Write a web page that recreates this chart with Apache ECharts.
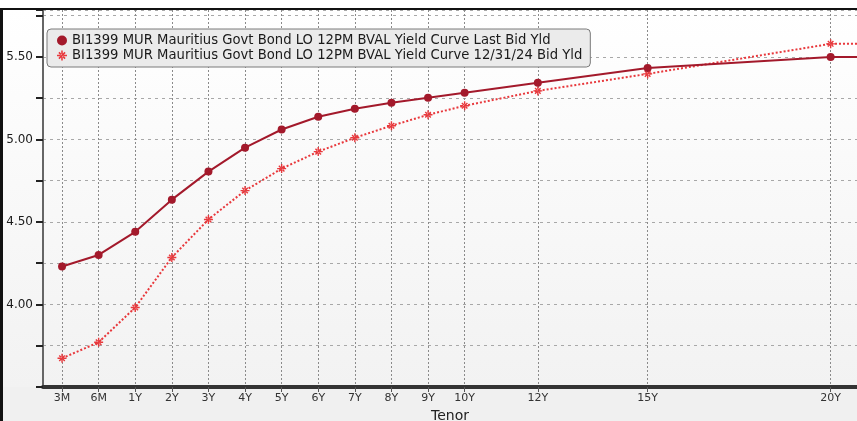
<!DOCTYPE html>
<html>
<head>
<meta charset="utf-8">
<script src="https://cdn.jsdelivr.net/npm/echarts@6/dist/echarts.min.js"></script>
<style>
  html, body { margin: 0; padding: 0; background: #f0f0f0; }
  #chart { width: 857px; height: 421px; }
</style>
</head>
<body>
<div id="chart"></div>
<script>
// tenor labels and where they sit on the (uneven) Bloomberg tenor axis
const tenors = ["3M", "6M", "1Y", "2Y", "3Y", "4Y", "5Y", "6Y", "7Y", "8Y", "9Y", "10Y", "12Y", "15Y", "20Y", "30Y"];
const tenorPos = [0, 1, 2, 3, 4, 5, 6, 7, 8, 9, 10, 11, 13, 16, 21, 31];

const lastBid = [4.23, 4.30, 4.44, 4.635, 4.805, 4.95, 5.06, 5.137, 5.186, 5.222, 5.252, 5.282, 5.343, 5.433, 5.50, 5.50];
const prevBid = [3.674, 3.771, 3.982, 4.285, 4.515, 4.69, 4.823, 4.926, 5.01, 5.083, 5.149, 5.204, 5.294, 5.397, 5.579, 5.59];

const yLabels = [4.0, 4.5, 5.0, 5.5];

const nameLast = "BI1399 MUR Mauritius Govt Bond LO 12PM BVAL Yield Curve Last Bid Yld";
const namePrev = "BI1399 MUR Mauritius Govt Bond LO 12PM BVAL Yield Curve 12/31/24 Bid Yld";

const starPath =
  "path://M-0.7,-4.5h1.4v9h-1.4z M-4.5,-0.7h9v1.4h-9z " +
  "M2.29,3.28L3.28,2.29L-2.29,-3.28L-3.28,-2.29z M-2.29,3.28L-3.28,2.29L2.29,-3.28L3.28,-2.29z";

const toPairs = vals => vals.map((v, i) => [tenorPos[i], v]);
const xMin = -0.52, xMax = 21.72;
const visiblePos = tenorPos.filter(p => p >= xMin && p <= xMax);

const option = {
  animation: false,
  textStyle: { fontFamily: "DejaVu Sans" },
  grid: {
    left: 43,
    right: 0,
    top: 10,
    bottom: 34,
    outerBoundsMode: "none",
    containLabel: false,
  },
  legend: {
    orient: "vertical",
    left: 47,
    top: 29,
    padding: [4, 8, 4, 10],
    itemGap: 0,
    itemWidth: 10,
    itemHeight: 10,
    backgroundColor: "#ebebeb",
    borderColor: "#7a7a7a",
    borderWidth: 1,
    borderRadius: 4,
    textStyle: { fontSize: 13.2, lineHeight: 15, color: "#1a1a1a", padding: [0, 0, 0, 0] },
    data: [
      { name: nameLast, icon: "circle" },
      { name: namePrev, icon: starPath },
    ],
  },
  xAxis: {
    type: "value",
    min: xMin,
    max: xMax,
    name: "Tenor",
    nameLocation: "middle",
    nameGap: 21,
    nameTextStyle: { fontSize: 14, color: "#222" },
    axisLine: { show: true, onZero: false, lineStyle: { color: "#333", width: 4 } },
    axisTick: { show: true, customValues: visiblePos, length: 5, lineStyle: { color: "#555" } },
    axisLabel: {
      customValues: visiblePos,
      fontSize: 11,
      color: "#333",
      margin: 6,
      formatter: v => tenors[tenorPos.indexOf(v)] || "",
    },
    splitLine: { show: true, lineStyle: { color: "#8a8a8a", type: [2, 2], width: 1 } },
  },
  yAxis: {
    type: "value",
    min: 3.5,
    max: 5.784,
    interval: 0.25,
    axisLine: { show: true, onZero: false, lineStyle: { color: "#666", width: 2 } },
    axisTick: { show: true, length: 7, lineStyle: { color: "#222", width: 2 } },
    axisLabel: {
      fontSize: 12,
      color: "#1a1a1a",
      margin: 10,
      formatter: v => (yLabels.some(l => Math.abs(l - v) < 1e-6) ? v.toFixed(2) : ""),
    },
    splitLine: { show: true, lineStyle: { color: "#a8a8a8", type: [3, 4], width: 1 } },
  },
  series: [
    {
      name: nameLast,
      type: "line",
      data: toPairs(lastBid),
      symbol: "circle",
      symbolSize: 8,
      color: "#a3192b",
      lineStyle: { width: 2, color: "#a3192b" },
      itemStyle: { color: "#a3192b" },
      z: 3,
    },
    {
      name: namePrev,
      type: "line",
      data: toPairs(prevBid),
      symbol: starPath,
      symbolSize: 9,
      color: "#e8383c",
      lineStyle: { width: 2, type: [2, 2], color: "#e8383c" },
      itemStyle: { color: "#e8383c" },
      z: 2,
    },
  ],
  graphic: [
    {
      type: "rect", left: 0, top: 10, z: -100, silent: true,
      shape: { width: 857, height: 377 },
      style: {
        fill: {
          type: "linear", x: 0, y: 0, x2: 0, y2: 1,
          colorStops: [{ offset: 0, color: "#ffffff" }, { offset: 1, color: "#f2f2f2" }],
        },
      },
    },
    { type: "rect", left: 0, top: 0, shape: { width: 857, height: 8 }, style: { fill: "#ffffff" }, z: 100 },
    { type: "rect", left: 0, top: 8, shape: { width: 857, height: 2 }, style: { fill: "#111" }, z: 100 },
    { type: "rect", left: 0, top: 8, shape: { width: 3, height: 413 }, style: { fill: "#111" }, z: 100 },
  ],
};

const myChart = echarts.init(document.getElementById("chart"));
myChart.setOption(option);
</script>
</body>
</html>
